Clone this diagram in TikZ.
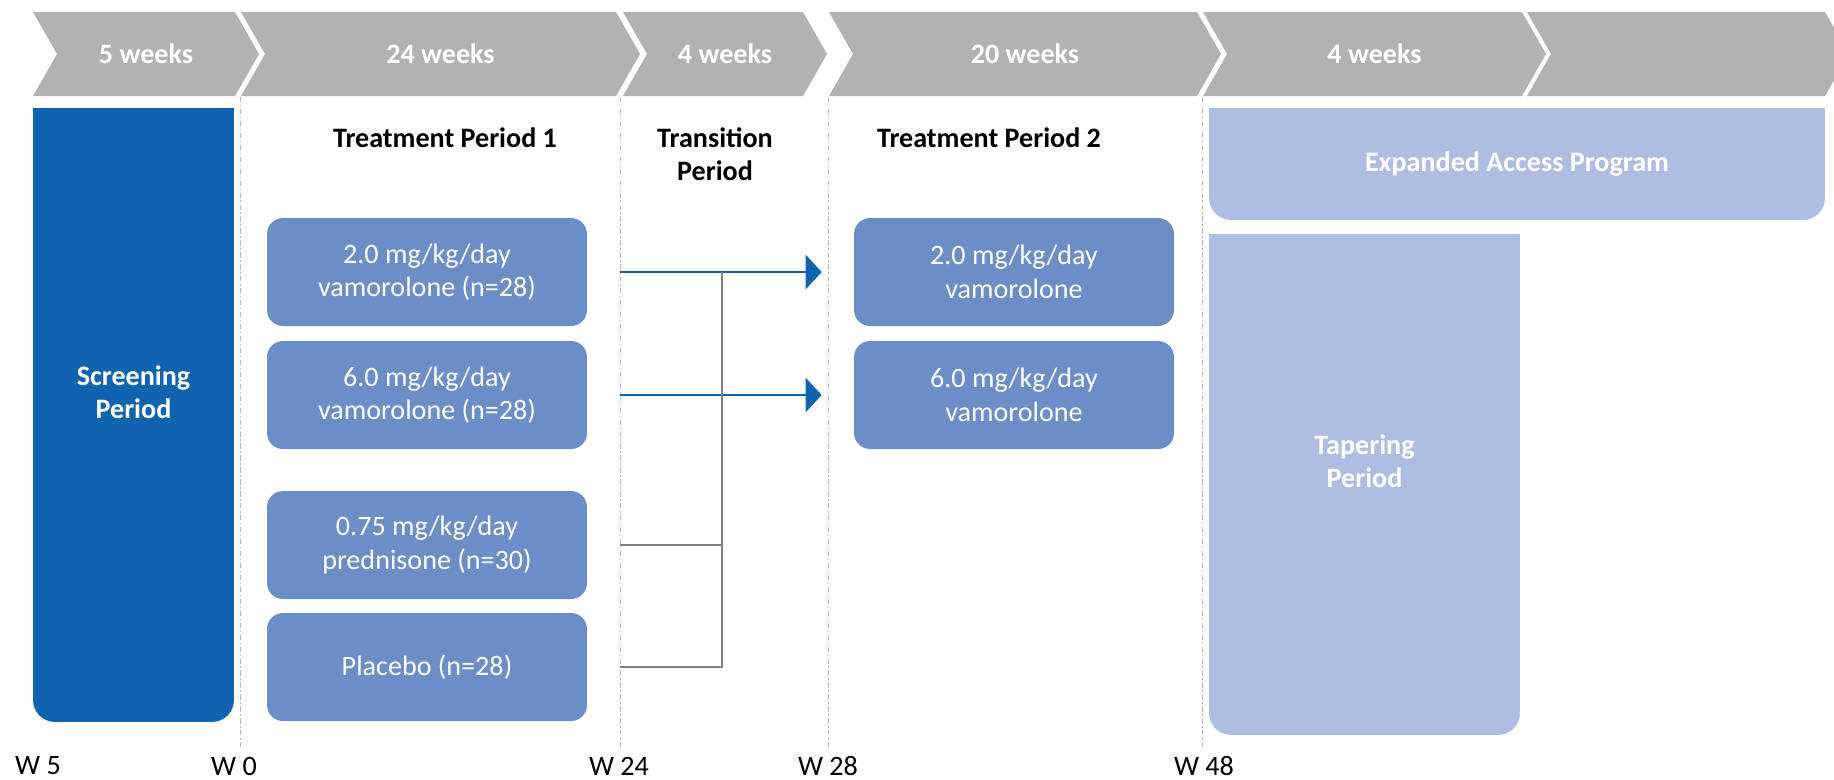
\documentclass[tikz,border=0pt]{standalone}
\usepackage{fontspec}
\setmainfont{Carlito}
\usetikzlibrary{positioning, calc, arrows.meta}
\usepackage{xcolor}
\definecolor{xgray}{HTML}{B2B2B2}
\definecolor{xblue}{HTML}{1063AE}
\definecolor{xmid}{HTML}{6B8EC8}
\definecolor{xlight}{HTML}{AEBDE1}
\definecolor{xline}{HTML}{7F7F7F}
\tikzset{
	arrow/.style={line width=1.4pt, draw=xblue, -{Triangle[length=0.32cm, width=0.68cm]}, shorten >=0.64cm},
	joinline/.style={line width=1.1pt, draw=xline},
	divider/.style={line width=0.5pt, draw=gray!55, dash pattern=on 3pt off 1.5pt on 0.8pt off 1.5pt},
	chev/.style={text=white, font=\bfseries},
	header/.style={font=\bfseries, align=center},
	dose/.style={fill=xmid, rounded corners=0.32cm, minimum width=6.4cm, minimum height=2.16cm, inner sep=0pt, text=white, align=center},
	period/.style={rounded corners=0.44cm, inner sep=0pt},
	ptext/.style={text=white, font=\bfseries, align=center},
}

\begin{document}
\begin{tikzpicture}[x=0.02cm, y=-0.02cm]
			\fontsize{16}{19}\selectfont
			\path[use as bounding box] (0,0) rectangle (1834,779);
			\clip (0,0) rectangle (1834,779);

			\foreach \l/\r/\t [count=\i] in {33/235/5 weeks, 241/616/24 weeks, 623/803/4 weeks, 829/1197/20 weeks, 1203/1522/4 weeks, 1527/1825/{}} {
				\fill[xgray] (\l,12) -- (\r,12) -- (\r+24,54) -- (\r,96) -- (\l,96) -- (\l+24,54) -- cycle;
				\node[chev] (wk\i) at ({(\l+\r)/2+12},54) {\t};
			}

			\foreach \x in {240, 620, 828, 1202}
				\draw[divider] (\x,97) -- (\x,750);
			\foreach \x/\t [count=\i] in {38/W 5, 234/W 0, 619/W 24, 828/W 28, 1204/W 48}
				\node (wlbl\i) at (\x,766) {\t};

			\node[period, fill=xblue, minimum width=4.02cm, minimum height=12.28cm] (scr) at (133.5,415) {};
			\fill[xblue] (scr.north west) rectangle (scr.east);
			\node[ptext] (scrlbl) at ([yshift=0.46cm]scr.center) {Screening\\Period};

			\node[header] (tp1) at (445,138) {Treatment Period 1};
			\node[header] (trans) at (715,154) {Transition\\Period};
			\node[header] (tp2) at (989,138) {Treatment Period 2};

			\node[dose] (d2) at (427,272) {2.0 mg/kg/day\\vamorolone (n=28)};
			\node[dose] (d6) at (427,395) {6.0 mg/kg/day\\vamorolone (n=28)};
			\node[dose] (pred) at (427,545) {0.75 mg/kg/day\\prednisone (n=30)};
			\node[dose] (plac) at (427,667) {Placebo (n=28)};

			\node[dose] (e2) at (1014,272) {2.0 mg/kg/day\\vamorolone};
			\node[dose] (e6) at (1014,395) {6.0 mg/kg/day\\vamorolone};

			\coordinate (s2) at (620,272);
			\coordinate (s6) at (620,395);
			\coordinate (sp) at (620,545);
			\coordinate (sq) at (620,667);
			\coordinate (j) at (722,272);

			\draw[arrow] (s2) -- (e2);
			\draw[arrow] (s6) -- (e6);
			\draw[joinline] (sq) -| (j);
			\draw[joinline] (sp) -- (sp -| j);

			\node[period, fill=xlight, minimum width=12.32cm, minimum height=2.24cm] (eap) at (1517,164) {};
			\fill[xlight] (eap.north west) rectangle (eap.east);
			\node[ptext] (eaplbl) at (eap.center) {Expanded Access Program};

			\node[period, fill=xlight, minimum width=6.22cm, minimum height=10.02cm] (tap) at (1364.5,484.5) {};
			\fill[xlight] (tap.north west) rectangle (tap.east);
			\node[ptext] (taplbl) at ([yshift=0.46cm]tap.center) {Tapering\\Period};
		\end{tikzpicture}
\end{document}
